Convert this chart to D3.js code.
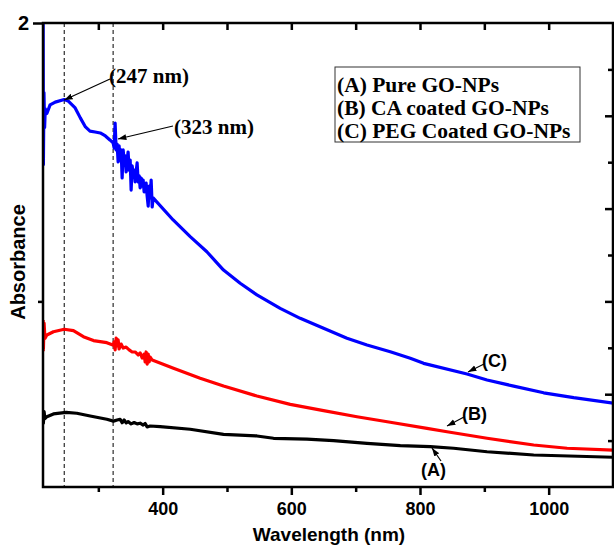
<!DOCTYPE html>
<html>
<head>
<meta charset="utf-8">
<script src="https://cdn.jsdelivr.net/npm/d3@7"></script>
<style>
  body { margin: 0; background: #fff; }
  svg { display: block; }
</style>
</head>
<body>
<svg id="chart" width="614" height="547"></svg>
<script>
// series: [wavelength (nm), absorbance]
var pureGO = [[214.2,0.33],[214.6,0.275],[215.7,0.325],[217,0.295],[220,0.303],[230.2,0.315],[250,0.322],[266.6,0.318],
  [287.3,0.306],[313.2,0.292],[323.5,0.284],[329.2,0.289],[333.9,0.292],[337,0.277],[340.1,0.289],[343.2,0.276],
  [346.3,0.282],[351,0.272],[355.7,0.278],[360.3,0.272],[365,0.275],[369.7,0.267],[372.8,0.274],[375.9,0.259],
  [380.6,0.263],[396.1,0.26],[442.8,0.249],[494.6,0.227],[546.5,0.22],[572.3,0.21],[624.3,0.206],[665.6,0.2],
  [717.6,0.188],[769.4,0.178],[816,0.174],[852.3,0.167],[904.2,0.152],[976.7,0.138],[1102,0.128]];

var caGO = [[214.2,0.72],[214.6,0.591],[215.7,0.707],[217,0.64],[220,0.655],[230.2,0.669],[247,0.68],[261.3,0.674],
  [276.8,0.648],[292.4,0.631],[313.2,0.622],[322.6,0.612],[324.6,0.625],[326.1,0.591],[327.7,0.642],[329.2,0.608],
  [330.8,0.634],[332.3,0.595],[335.4,0.616],[338.6,0.599],[343.2,0.603],[347.9,0.591],[352.6,0.582],[357.2,0.582],
  [361.9,0.569],[365,0.578],[368.1,0.556],[371.2,0.573],[372.8,0.539],[374.3,0.582],[375.9,0.53],[377.5,0.573],
  [379,0.539],[380.6,0.56],[383.7,0.547],[416.8,0.512],[458.3,0.469],[494.6,0.435],[546.5,0.392],[598.3,0.356],
  [650.1,0.329],[702,0.303],[753.8,0.279],[810.9,0.253],[842,0.238],[904.2,0.21],[976.7,0.181],[1028.6,0.167],
  [1102,0.159]];

var pegGO = [[214.2,2.05],[214.6,1.39],[215.5,1.7],[216.5,1.55],[217.5,1.63],[220,1.61],[225,1.647],[233,1.659],
  [247,1.67],[253,1.664],[264,1.634],[272,1.591],[280,1.552],[287,1.534],[295,1.53],[303,1.526],[311,1.513],
  [318,1.496],[323,1.483],[324.6,1.461],[326.1,1.569],[327.7,1.453],[329.2,1.478],[330.8,1.401],[332.3,1.47],
  [333.9,1.409],[335.4,1.453],[337,1.332],[338.6,1.453],[340.1,1.401],[341.7,1.427],[343.2,1.358],[344.8,1.409],
  [346.3,1.444],[347.9,1.366],[349.5,1.409],[351,1.28],[352.6,1.384],[354.1,1.349],[355.7,1.366],[357.2,1.315],
  [358.8,1.358],[360.3,1.397],[361.9,1.315],[363.5,1.341],[365,1.289],[366.6,1.332],[368.1,1.297],[369.7,1.323],
  [371.2,1.272],[372.8,1.297],[374.3,1.31],[375.9,1.254],[377.5,1.211],[379,1.297],[380.6,1.246],[382.1,1.323],
  [383.7,1.207],[385.2,1.246],[416.3,1.151],[442.8,1.079],[468.7,1.014],[494.6,0.935],[520.5,0.878],[546.5,0.828],
  [582.7,0.77],[613.8,0.727],[650.1,0.684],[686.5,0.641],[717.6,0.612],[753.8,0.583],[784.9,0.555],[805.6,0.533],
  [873.1,0.487],[904.2,0.461],[945.6,0.435],[992.2,0.406],[1038.9,0.385],[1101,0.361]];

var legendLabels = ["(A) Pure GO-NPs", "(B) CA coated GO-NPs", "(C) PEG Coated GO-NPs"];
var peakMarks = [247, 323];
var xMajor = [400, 600, 800, 1000];
var xMinor = [300, 500, 700, 900];
var yMajor = [0.4, 0.8, 1.2, 1.6];
var yMinor = [0.2, 0.6, 1.0, 1.4, 1.8];

var sans = "Liberation Sans, Arial, sans-serif";
var serif = "Liberation Serif, Times New Roman, serif";

var svg = d3.select("#chart");
var x = d3.scaleLinear().domain([214, 1100]).range([43, 613]);
var y = d3.scaleLinear().domain([0, 2]).range([487, 23]);

svg.append("clipPath").attr("id", "plot")
  .append("rect").attr("x", 43).attr("y", 23).attr("width", 570).attr("height", 464);

// dashed markers
svg.selectAll(".peak").data(peakMarks).enter().append("line")
  .attr("x1", d => x(d)).attr("x2", d => x(d))
  .attr("y1", y(2)).attr("y2", y(0))
  .attr("stroke", "#000").attr("stroke-width", 1).attr("stroke-dasharray", "4,3");

var line = d3.line().x(d => x(d[0])).y(d => y(d[1]));
var series = [[pureGO, "#000"], [caGO, "#ff0000"], [pegGO, "#0000ff"]];
svg.append("g").attr("clip-path", "url(#plot)")
  .selectAll("path").data(series).enter().append("path")
  .attr("d", d => line(d[0]))
  .attr("fill", "none")
  .attr("stroke", d => d[1])
  .attr("stroke-width", 3.2)
  .attr("stroke-linejoin", "round");

// axes
function styleAxis(g) {
  g.select(".domain").remove();
  g.selectAll("line").attr("stroke", "#000").attr("stroke-width", 2.5);
  g.selectAll("text").attr("font-family", sans)
    .attr("font-weight", "bold").attr("font-size", 18).attr("fill", "#000");
}
svg.append("g").attr("transform", "translate(0,487)")
  .call(d3.axisBottom(x).tickValues(xMajor).tickSize(8).tickPadding(7).tickFormat(d3.format("d")))
  .call(styleAxis);
svg.append("g").attr("transform", "translate(0,487)")
  .call(d3.axisBottom(x).tickValues(xMinor).tickSize(5).tickFormat(""))
  .call(styleAxis);
svg.append("g").attr("transform", "translate(0,23)")
  .call(d3.axisTop(x).tickValues(xMajor.concat(xMinor)).tickSize(-7).tickFormat(""))
  .call(styleAxis);
svg.append("g").attr("transform", "translate(613,0)")
  .call(d3.axisRight(y).tickValues(yMajor).tickSize(-8).tickFormat(""))
  .call(styleAxis);
svg.append("g").attr("transform", "translate(613,0)")
  .call(d3.axisRight(y).tickValues(yMinor).tickSize(-5).tickFormat(""))
  .call(styleAxis);
svg.append("g").attr("transform", "translate(43,0)")
  .call(d3.axisLeft(y).tickValues([2]).tickSize(10).tickPadding(4).tickFormat(d3.format("d")))
  .call(styleAxis)
  .call(g => g.selectAll("text").attr("font-size", 20));
svg.append("g").attr("transform", "translate(43,0)")
  .call(d3.axisLeft(y).tickValues([0.8]).tickSize(5).tickFormat(""))
  .call(styleAxis);

svg.append("rect").attr("x", 43).attr("y", 23).attr("width", 570).attr("height", 464)
  .attr("fill", "none").attr("stroke", "#000").attr("stroke-width", 2.5);

svg.append("text").attr("x", 329).attr("y", 541).attr("text-anchor", "middle")
  .attr("font-family", sans).attr("font-weight", "bold").attr("font-size", 19)
  .text("Wavelength (nm)");
svg.append("text").attr("transform", "translate(25,262) rotate(-90)").attr("text-anchor", "middle")
  .attr("font-family", sans).attr("font-weight", "bold").attr("font-size", 20)
  .text("Absorbance");

// legend
var lg = svg.append("g");
lg.append("rect").attr("x", 335).attr("y", 67).attr("width", 245).attr("height", 75)
  .attr("fill", "#fff").attr("stroke", "#333").attr("stroke-width", 1);
lg.selectAll("text").data(legendLabels).enter().append("text")
  .attr("x", 337).attr("y", (d, i) => 92 + i * 23)
  .attr("font-family", serif).attr("font-weight", "bold").attr("font-size", 21.5)
  .text(d => d);

// annotations
svg.append("defs").append("marker").attr("id", "arr")
  .attr("viewBox", "0 0 10 10").attr("refX", 10).attr("refY", 5)
  .attr("markerWidth", 7).attr("markerHeight", 7).attr("orient", "auto")
  .append("path").attr("d", "M0,1.5L10,5L0,8.5Z").attr("fill", "#000");

function note(label, tx, ty, x1, y1, x2, y2, font, size) {
  svg.append("line").attr("x1", x1).attr("y1", y1).attr("x2", x2).attr("y2", y2)
    .attr("stroke", "#000").attr("stroke-width", 1.2).attr("marker-end", "url(#arr)");
  svg.append("text").attr("x", tx).attr("y", ty)
    .attr("font-family", font).attr("font-weight", "bold").attr("font-size", size)
    .text(label);
}
note("(247 nm)", 109, 83, 110, 79, x(247), y(1.668), serif, 21);
note("(323 nm)", 174, 134, 173, 126, 118, 139, serif, 21);
note("(C)", 482, 367, 484, 364, 468, 372, sans, 18);
note("(B)", 462, 420, 464, 417, 447, 426, sans, 18);
note("(A)", 421, 476, 441, 461, 432, 448, sans, 18);
</script>
</body>
</html>
